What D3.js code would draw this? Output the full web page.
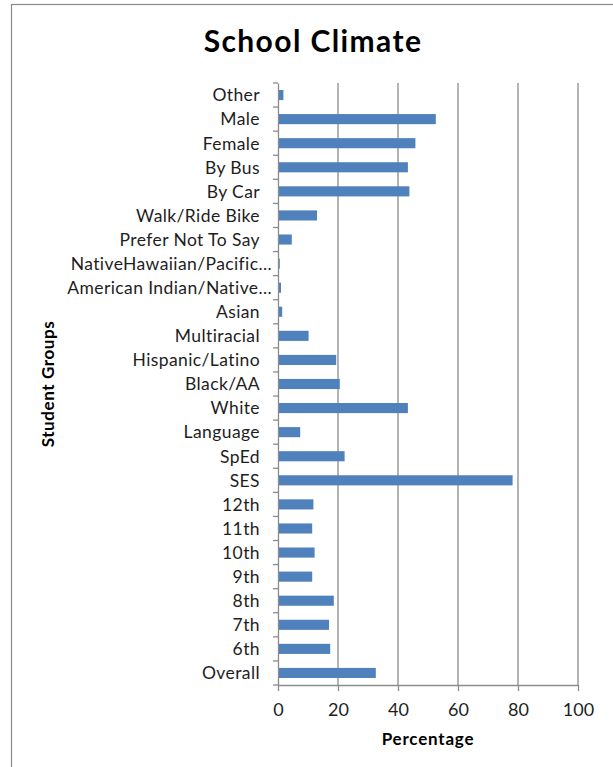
<!DOCTYPE html>
<html>
<head>
<meta charset="utf-8">
<script src="https://cdn.jsdelivr.net/npm/d3@7"></script>
<style>
  html, body { margin: 0; padding: 0; background: #fff; }
  svg { display: block; }
  text { font-family: Lato, "Open Sans", sans-serif; }
</style>
</head>
<body>
<svg id="chart" width="613" height="767"></svg>
<script>
// Student groups, listed top to bottom
const categories = [
  "Other", "Male", "Female", "By Bus", "By Car", "Walk/Ride Bike",
  "Prefer Not To Say", "NativeHawaiian/Pacific…", "American Indian/Native…",
  "Asian", "Multiracial", "Hispanic/Latino", "Black/AA", "White",
  "Language", "SpEd", "SES", "12th", "11th", "10th", "9th", "8th",
  "7th", "6th", "Overall"
];

// Percentage for each group (same order as categories)
const values = [
  1.8, 52.6, 45.8, 43.3, 43.8, 13.0,
  4.6, 0.6, 1.0,
  1.4, 10.2, 19.4, 20.6, 43.3,
  7.4, 22.2, 78.2, 11.8, 11.4, 12.2, 11.4, 18.6,
  17.0, 17.4, 32.6
];

const xTicks = [0, 20, 40, 60, 80, 100];

const titleText = "School Climate";
const xTitle = "Percentage";
const yTitle = "Student Groups";

const svg = d3.select("#chart");

// Outer chart frame
svg.append("rect")
  .attr("x", 11.5).attr("y", 4.5)
  .attr("width", 640).attr("height", 800)
  .attr("fill", "none")
  .attr("stroke", "#8a8a8a")
  .attr("stroke-width", 1.2);

const plot = { left: 278, right: 578, top: 83, bottom: 685 };

const x = d3.scaleLinear().domain([0, 100]).range([plot.left, plot.right]);
const y = d3.scaleBand()
  .domain(categories)
  .range([plot.top, plot.bottom])
  .paddingInner(0.58)
  .paddingOuter(0.29);

const gridColor = "#8c8c8c";

// Vertical gridlines
svg.append("g")
  .selectAll("line")
  .data(xTicks.filter(t => t > 0))
  .join("line")
  .attr("x1", d => x(d)).attr("x2", d => x(d))
  .attr("y1", plot.top).attr("y2", plot.bottom)
  .attr("stroke", gridColor)
  .attr("stroke-width", 1.3);

// Bars
svg.append("g")
  .selectAll("rect")
  .data(categories.map((c, i) => ({ c, v: values[i] })))
  .join("rect")
  .attr("x", x(0))
  .attr("y", d => y(d.c))
  .attr("width", d => x(d.v) - x(0))
  .attr("height", y.bandwidth())
  .attr("fill", "#4f81bd");

// X axis: line, ticks hanging below, labels
const xAxis = d3.axisBottom(x)
  .tickValues(xTicks)
  .tickSize(6)
  .tickPadding(12)
  .tickSizeOuter(0);
const gx = svg.append("g")
  .attr("transform", `translate(0,${plot.bottom})`)
  .call(xAxis);
gx.select(".domain").attr("stroke", gridColor).attr("stroke-width", 1.3);
gx.selectAll(".tick line").attr("stroke", gridColor).attr("stroke-width", 1.3);
gx.selectAll(".tick text")
  .attr("fill", "#1e1e1e")
  .style("font-size", "18px");

// Y axis: line, category labels, ticks at band boundaries
const yAxis = d3.axisLeft(y).tickSize(0).tickPadding(18);
const gy = svg.append("g")
  .attr("transform", `translate(${plot.left},0)`)
  .call(yAxis);
gy.select(".domain").attr("stroke", gridColor).attr("stroke-width", 1.3);
gy.selectAll(".tick text")
  .attr("fill", "#1e1e1e")
  .attr("dy", "0.36em")
  .style("font-size", "17.5px")
  .style("letter-spacing", "0.4px");
// Truncated (ellipsized) labels sit closer to the axis
gy.selectAll(".tick text")
  .filter(d => d.endsWith("…"))
  .attr("x", -6);

const step = y.step();
const boundaries = d3.range(categories.length + 1).map(i => plot.top + i * step);
svg.append("g")
  .selectAll("line")
  .data(boundaries)
  .join("line")
  .attr("x1", plot.left - 5).attr("x2", plot.left)
  .attr("y1", d => d).attr("y2", d => d)
  .attr("stroke", gridColor)
  .attr("stroke-width", 1.3);

// Titles
svg.append("text")
  .attr("x", 313).attr("y", 52)
  .attr("text-anchor", "middle")
  .attr("font-weight", "bold")
  .attr("fill", "#000")
  .style("font-size", "30px")
  .style("letter-spacing", "1.4px")
  .text(titleText);

svg.append("text")
  .attr("x", 428).attr("y", 745)
  .attr("text-anchor", "middle")
  .attr("font-weight", "bold")
  .attr("fill", "#000")
  .style("font-size", "17px")
  .style("letter-spacing", "0.8px")
  .text(xTitle);

svg.append("text")
  .attr("transform", "translate(54,384) rotate(-90)")
  .attr("text-anchor", "middle")
  .attr("font-weight", "bold")
  .attr("fill", "#000")
  .style("font-size", "17px")
  .style("letter-spacing", "0.6px")
  .text(yTitle);
</script>
</body>
</html>
